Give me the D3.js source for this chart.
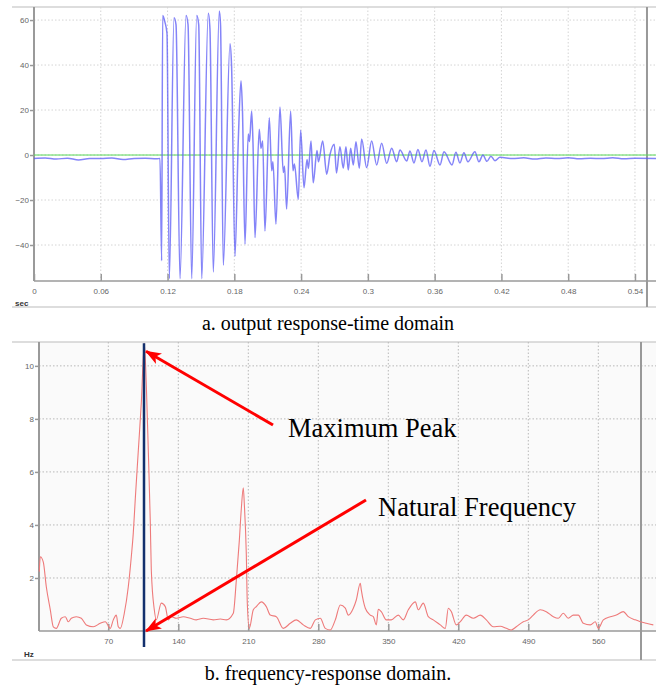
<!DOCTYPE html>
<html>
<head>
<meta charset="utf-8">
<script src="https://cdn.jsdelivr.net/npm/d3@7"></script>
<style>
  body { margin: 0; background: #fff; }
  svg { display: block; }
</style>
</head>
<body>
<svg id="fig" width="656" height="686"></svg>
<script>
// ---- a. time domain (sec, output) ----
const respT = [0, 0.01, 0.02, 0.03, 0.04, 0.05, 0.06, 0.07, 0.08, 0.09, 0.1, 0.11, 0.1132,
  0.1147, 0.1156, 0.1177, 0.1195, 0.1216, 0.1258, 0.1276, 0.1312, 0.1366, 0.1384, 0.1417, 0.1462, 0.148, 0.1507,
  0.1566, 0.1581, 0.1611, 0.1665, 0.1676, 0.1701, 0.1761, 0.1775, 0.1806, 0.1836, 0.186, 0.1873, 0.1896,
  0.1925, 0.1936, 0.1956, 0.1968, 0.1986, 0.2024, 0.2039, 0.2055, 0.2075, 0.2114, 0.2136, 0.2147, 0.2174,
  0.221, 0.224, 0.2251, 0.227, 0.2306, 0.2327, 0.234, 0.2375, 0.2396, 0.2426, 0.2453, 0.2466, 0.2489, 0.2509,
  0.2543, 0.2556, 0.2594, 0.263, 0.2659, 0.2698, 0.2718, 0.2749, 0.2779, 0.2803, 0.2824, 0.2845, 0.2869,
  0.2893, 0.2923, 0.2944, 0.2989, 0.3034, 0.3079, 0.3124, 0.3169, 0.3214, 0.3259, 0.3288, 0.3349, 0.3378,
  0.3414, 0.345, 0.3486, 0.3522, 0.3558, 0.3594, 0.3648, 0.3684, 0.3756, 0.3791, 0.3827, 0.3863, 0.3899,
  0.3962, 0.3998, 0.4034, 0.407, 0.4106, 0.4142, 0.4187, 0.43, 0.44, 0.45, 0.46, 0.47, 0.48, 0.49, 0.5,
  0.51, 0.52, 0.53, 0.54, 0.5589]
const respV = [-1.5, -1.3, -1.8, -1.4, -2.2, -1.5, -1.6, -1.3, -2.0, -1.5, -1.4, -1.7, -1.5,
  -47, 62, 59, 54, -55, 61, 58, -55, 62, 58, -55, 62, 58, -55,
  63, 56, -52, 64, 58, -49, 49.5, 40, -45, 7, 33, 20, -39.6,
  9.3, 6, 19.5, 5, -36.7, 11.5, 3, 6.2, -33.8, 16.6, -7, -3, -30.7,
  21.3, -7.8, -5, -24, 19.5, -7, -4, -19.7, 11, -14.5, -2, -6, 6.2, -12.3,
  2, -3, 6.2, -8.5, 0, 4.8, -8, 3.7, -5.9, 3.7, -6.7, 3, -4.4,
  5.9, -5.9, 7.1, -5.6, 6.2, -4.4, 5.2, -3.7, 3, -3, 2.2, -2.7, 1.8,
  -3.5, 2.5, -3, 2.2, -5, 2, -4.4, 1.5, -4.4, 1.2, -3.5, 1, -3,
  1.5, -3, 0, -2.8, -0.5, -2.5, -1, -1.6, -1.2, -1.8, -1.3, -1.6, -1.2, -1.7, -1.4,
  -1.6, -1.2, -1.7, -1.4, -1.5]
const timeTicks = [0, 0.06, 0.12, 0.18, 0.24, 0.3, 0.36, 0.42, 0.48, 0.54]
const ampTicks = [-40, -20, 0, 20, 40, 60]
const timeCursor = 0.5508

// ---- b. frequency domain (Hz, magnitude) ----
const freqHz = [1, 2, 5, 8, 12, 15, 18, 23, 27, 30, 33, 38, 43, 48, 55, 62, 67, 72, 75, 78, 80, 82, 86, 90, 93,
  95, 97, 100, 103, 106, 108, 110, 112, 113, 116, 118, 123, 127, 130, 133, 138, 145, 152, 158, 165, 175, 182,
  188, 195, 198, 201, 203, 205, 206, 208, 209, 211, 215, 218, 223, 228, 232, 238, 245, 252, 258, 265, 272,
  277, 282, 287, 292, 297, 302, 307, 310, 315, 318, 322, 323, 327, 332, 335, 338, 340, 343, 348, 353, 360,
  365, 370, 377, 380, 385, 390, 395, 402, 407, 410, 413, 418, 422, 428, 435, 442, 448, 455, 462, 468, 473,
  478, 485, 490, 495, 502, 508, 515, 520, 525, 530, 535, 540, 545, 552, 557, 560, 565, 572, 578, 585, 590,
  597, 602, 608, 615]
const magnitude = [2.24, 2.8, 2.6, 1.67, 0.8, 0.16, 0.1, 0.48, 0.54, 0.35, 0.48, 0.54, 0.48, 0.23, 0.16, 0.29,
  0.35, 0.1, 0.42, 0.6, 0.16, 0.1, 0.67, 1.67, 2.8,
  3.7, 5.0, 6.8, 8.6, 10.85, 9.3, 6.8, 4.1, 2.3, 0.8, 0.42, 1.05, 0.92, 0.42, 0.54, 0.48, 0.54, 0.48, 0.42,
  0.48, 0.42, 0.45, 0.42, 0.67, 1.9, 3.4, 4.6, 5.4, 4.8, 2.9, 1.05, 0.1, 0.8, 0.92, 1.1, 0.92, 0.6, 0.54,
  0.1, 0.29, 0.42, 0.23, 0.1, 0.42, 0.48, 0.1, 0.04, 0.42, 0.98, 0.86, 0.6, 0.86, 1.17, 1.8, 1.55, 0.86,
  0.6, 0.54, 0.23, 0.82, 0.73, 0.42, 0.42, 0.6, 0.42, 0.8, 1.1, 0.8, 1.05, 0.54, 0.42, 0.23, 0.1, 0.86,
  0.73, 0.23, 0.35, 0.6, 0.48, 0.6, 0.42, 0.16, 0.18, 0.1, 0.04, 0.16, 0.35, 0.42, 0.6, 0.8, 0.73, 0.54,
  0.48, 0.67, 0.48, 0.6, 0.6, 0.29, 0.23, 0.35, 0.1, 0.42, 0.54, 0.6, 0.73, 0.54, 0.42, 0.35, 0.29, 0.23]
const freqTicks = [70, 140, 210, 280, 350, 420, 490, 560]
const magTicks = [2, 4, 6, 8, 10]
const freqCursor = 602.7
const naturalFreq = 105.7
const peakMag = 10.85

// annotation labels: [text, tail freq, tail mag, text freq, text mag, head mag]
const notes = [
  ['Maximum Peak', 234.7, 7.77, 249.7, 7.3, peakMag - 0.3],
  ['Natural Frequency', 327.7, 4.94, 339.7, 4.34, 0]
]
const captions = ['a. output response-time domain', 'b. frequency-response domain.']

const svg = d3.select('#fig')
const tickFont = 'Arial, "Liberation Sans", sans-serif'
const serif = '"Times New Roman", "Liberation Serif", serif'

// shared frame/grid/axes drawing
const panel = (o) => {
  const g = svg.append('g')
  const [x0, x1] = o.x.range()
  const [yb, yt] = o.y.range()

  g.append('rect').attr('x', x0).attr('y', yt).attr('width', x1 - x0).attr('height', yb - yt).attr('fill', o.bg)

  // box top / bottom
  g.selectAll('line.box').data([o.boxTop, o.boxBottom]).join('line')
    .attr('x1', 12).attr('x2', 656).attr('y1', (d) => d).attr('y2', (d) => d)
    .attr('stroke', '#bbb').attr('stroke-width', 1)

  // dotted grid
  g.append('g').selectAll('line').data(o.yTicks).join('line')
    .attr('x1', x0).attr('x2', x1).attr('y1', (d) => o.y(d)).attr('y2', (d) => o.y(d))
    .attr('stroke', o.grid).attr('stroke-dasharray', '1.5,2')
  g.append('g').selectAll('line').data(o.xTicks.filter((d) => d > 0)).join('line')
    .attr('y1', yt).attr('y2', yb).attr('x1', (d) => o.x(d)).attr('x2', (d) => o.x(d))
    .attr('stroke', o.grid).attr('stroke-dasharray', '1.5,2')

  const ax = g.append('g').attr('transform', `translate(0,${yb})`)
    .call(d3.axisBottom(o.x).tickValues(o.xTicks).tickFormat(o.fmt).tickSize(-7).tickPadding(7))
  const ay = g.append('g').attr('transform', `translate(${x0},0)`)
    .call(d3.axisLeft(o.y).tickValues(o.yTicks).tickSize(4).tickPadding(1))
  for (const a of [ax, ay]) {
    a.select('.domain').remove()
    a.selectAll('line').attr('stroke', '#999').attr('stroke-width', 1.5)
    a.selectAll('text').attr('fill', '#666').style('font', `8px ${tickFont}`)
  }

  // axis lines
  g.append('line').attr('x1', x0).attr('x2', x0).attr('y1', yt).attr('y2', yb)
    .attr('stroke', '#9a9a9a').attr('stroke-width', 2)
  g.append('line').attr('x1', x0).attr('x2', x1).attr('y1', yb).attr('y2', yb)
    .attr('stroke', '#9a9a9a').attr('stroke-width', 1.5)

  // cursor line on the right
  g.append('line').attr('x1', o.x(o.cursor)).attr('x2', o.x(o.cursor))
    .attr('y1', yt).attr('y2', o.boxBottom).attr('stroke', '#999').attr('stroke-width', 2)

  g.append('text').attr('x', o.unitX).attr('y', o.unitY).text(o.unit)
    .attr('fill', '#333').style('font', `bold 8px ${tickFont}`)
  return g
}

// ---------- panel a ----------
const xT = d3.scaleLinear().domain([0, 0.5589]).range([34, 656])
const yT = d3.scaleLinear().domain([-56, 65.8]).range([281, 7])
const gA = panel({
  x: xT, y: yT, xTicks: timeTicks, yTicks: ampTicks, fmt: d3.format('~g'),
  bg: '#fff', grid: '#d4d4d4', boxTop: 7, boxBottom: 307, cursor: timeCursor,
  unit: 'sec', unitX: 15, unitY: 306
})
gA.append('line').attr('x1', 34).attr('x2', 656).attr('y1', yT(0)).attr('y2', yT(0))
  .attr('stroke', '#5ad85a').attr('stroke-width', 1)
gA.append('path').datum(respT.map((t, i) => [t, respV[i]]))
  .attr('fill', 'none').attr('stroke', '#5b5bf6').attr('stroke-opacity', 0.75).attr('stroke-width', 1.5)
  .attr('d', d3.line().x((d) => xT(d[0])).y((d) => yT(d[1])).curve(d3.curveMonotoneX))

// ---------- panel b ----------
const xF = d3.scaleLinear().domain([0.7, 617.7]).range([39, 656])
const yF = d3.scaleLinear().domain([0, 10.9]).range([631, 342])
const gB = panel({
  x: xF, y: yF, xTicks: freqTicks, yTicks: magTicks, fmt: d3.format('d'),
  bg: '#fafafa', grid: '#b8b8b8', boxTop: 342, boxBottom: 660, cursor: freqCursor,
  unit: 'Hz', unitX: 24, unitY: 657
})
gB.append('path').datum(freqHz.map((f, i) => [f, magnitude[i]]))
  .attr('fill', 'none').attr('stroke', '#ee7a7a').attr('stroke-width', 1.1)
  .attr('d', d3.line().x((d) => xF(d[0])).y((d) => yF(d[1])).curve(d3.curveMonotoneX))

// natural frequency marker
gB.append('line').attr('x1', xF(naturalFreq)).attr('x2', xF(naturalFreq))
  .attr('y1', yF(peakMag)).attr('y2', 647).attr('stroke', '#13306d').attr('stroke-width', 2.5)

// red arrows + labels
svg.append('defs').append('marker').attr('id', 'arr')
  .attr('viewBox', '0 0 16 12').attr('refX', 15).attr('refY', 6)
  .attr('markerWidth', 16).attr('markerHeight', 12).attr('markerUnits', 'userSpaceOnUse')
  .attr('orient', 'auto')
  .append('path').attr('d', 'M0,0L16,6L0,12L4,6Z').attr('fill', '#f00')

const ann = svg.append('g')
ann.selectAll('line').data(notes).join('line')
  .attr('x1', (d) => xF(d[1])).attr('y1', (d) => yF(d[2]))
  .attr('x2', (d) => xF(naturalFreq) + 2).attr('y2', (d) => yF(d[5]))
  .attr('stroke', '#f00').attr('stroke-width', 3).attr('marker-end', 'url(#arr)')
ann.selectAll('text').data(notes).join('text')
  .attr('x', (d) => xF(d[3])).attr('y', (d) => yF(d[4]))
  .text((d) => d[0]).attr('fill', '#000').style('font', `26.5px ${serif}`)

// captions
svg.selectAll('text.cap').data(captions).join('text').attr('class', 'cap')
  .attr('x', 328).attr('y', (d, i) => [330, 680][i]).attr('text-anchor', 'middle')
  .text((d) => d).attr('fill', '#000').style('font', `20px ${serif}`)
</script>
</body>
</html>
